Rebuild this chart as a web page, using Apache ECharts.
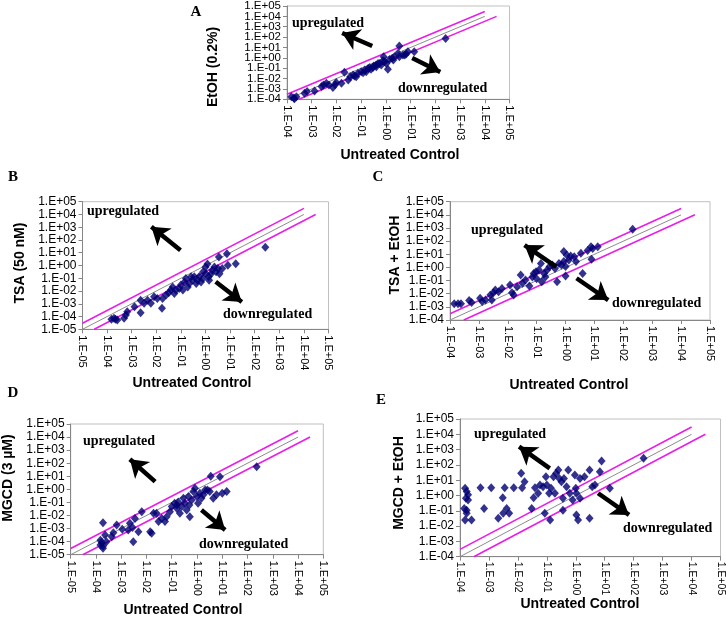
<!DOCTYPE html>
<html><head><meta charset="utf-8">
<script src="https://cdn.jsdelivr.net/npm/echarts@6/dist/echarts.min.js"></script>
<style>html,body{margin:0;padding:0;background:#fff}#c{width:726px;height:617px}</style>
</head><body><div id="c"></div><script>
// ---- tick labels ----
const tickLabels = ['1.E-05','1.E-04','1.E-03','1.E-02','1.E-01','1.E+00','1.E+01','1.E+02','1.E+03','1.E+04','1.E+05'];

// ---- data: [untreated control, treatment] ----
const dataA = [[1.9e-4,1.3e-4],[2.4e-4,1.8e-4],[1.5e-4,1.8e-4],[2.0e-4,1.1e-4],[5.1e-4,3.8e-4],[6.5e-4,5.5e-4],[1.3e-3,6.3e-4],[2.5e-3,1.7e-3],[3.0e-3,2.4e-3],[3.9e-3,3.5e-3],[5.0e-3,2.4e-3],[7.2e-3,1.4e-3],[9.8e-3,4.1e-3],[8.9e-3,2.5e-3],[1.6e-2,3.5e-3],[2.1e-2,4.0e-2],[3.0e-2,7.2e-3],[3.6e-2,1.5e-2],[4.7e-2,2.2e-2],[5.4e-2,1.8e-2],[6.3e-2,1.5e-2],[7.4e-2,3.2e-2],[0.1,4.6e-2],[0.12,3.7e-2],[0.14,6.6e-2],[0.16,4.6e-2],[0.19,9.5e-2],[0.22,0.12],[0.25,7.8e-2],[0.3,0.12],[0.32,0.16],[0.4,0.2],[0.41,0.14],[0.48,0.29],[0.55,0.29],[0.65,0.2],[0.76,0.52],[0.81,1.3],[0.89,0.42],[1.05,0.29],[1.2,7.8e-2],[1.4,0.71],[1.8,0.89],[2.0,0.63],[2.2,1.3],[3.1,2.7],[3.5,14],[3.5,1.3],[4.9,1.9],[5.8,1.9],[6.6,2.3],[7.8,3.9],[14,3.9],[260,74]];
const dataB = [[1.5e-4,6.0e-5],[1.9e-4,7.2e-5],[2.2e-4,6.0e-5],[2.6e-4,5.4e-5],[4.9e-4,7.2e-5],[5.8e-4,1.3e-4],[6.6e-4,2.4e-4],[1.3e-3,5.9e-4],[2.3e-3,2.0e-4],[2.3e-3,1.9e-3],[3.2e-3,1.1e-3],[4.4e-3,1.9e-3],[6.0e-3,1.1e-3],[8.1e-3,3.5e-3],[1.1e-2,2.6e-3],[1.7e-2,4.4e-4],[1.8e-2,2.6e-3],[2.5e-2,4.8e-3],[3.2e-2,7.2e-3],[3.9e-2,1.2e-2],[4.6e-2,2.1e-2],[5.4e-2,6.5e-3],[6.3e-2,1.2e-2],[8.5e-2,1.6e-2],[0.1,2.9e-2],[0.12,1.2e-2],[0.14,5.2e-2],[0.16,9.5e-2],[0.19,2.1e-2],[0.22,3.9e-2],[0.26,0.13],[0.3,7.1e-2],[0.35,0.13],[0.42,3.9e-2],[0.48,7.1e-2],[0.56,0.14],[0.66,5.2e-2],[0.78,9.5e-2],[0.81,0.32],[1.0,0.78],[1.05,0.23],[1.2,1.3],[1.35,0.13],[1.4,7.1e-2],[1.7,0.23],[1.9,0.43],[2.3,0.78],[2.7,0.32],[3.2,0.58],[3.5,4.7],[3.7,0.23],[4.8,0.58],[7.4,8.5],[8.1,1.05],[17,1.4],[270,27]];
const dataC = [[1.4e-4,1.7e-3],[1.9e-4,1.7e-3],[2.4e-4,1.7e-3],[4.6e-4,3.0e-3],[5.6e-4,2.1e-3],[1.1e-3,4.5e-3],[1.3e-3,2.5e-3],[1.7e-3,3.3e-3],[2.5e-3,7.9e-3],[2.8e-3,3.3e-3],[3.2e-3,1.2e-2],[3.7e-3,1.9e-2],[4.8e-3,1.4e-2],[6.3e-3,2.5e-2],[1.2e-2,4.6e-2],[1.4e-2,1.2e-2],[1.6e-2,7.9e-3],[2.1e-2,3.4e-2],[2.8e-2,0.26],[3.2e-2,6.2e-2],[4.1e-2,0.11],[5.6e-2,3.8e-2],[7.1e-2,0.19],[7.9e-2,0.35],[9.5e-2,0.47],[0.1,0.14],[0.12,0.63],[0.14,2.0],[0.15,8.1e-2],[0.18,0.35],[0.2,0.19],[0.23,0.63],[0.28,1.15],[0.35,1.5],[0.43,0.83],[0.51,8.1e-2],[0.59,2.0],[0.72,1.5],[0.87,16],[0.87,2.8],[1.0,1.15],[1.0,0.22],[1.1,8.7],[1.3,3.6],[1.5,7.4],[2.0,6.6],[2.3,2.8],[3.4,12],[3.9,0.35],[5.8,19],[7.6,38],[7.9,4.2],[8.7,28],[13,38],[210,790]];
const dataD = [[1.9e-4,2.8e-3],[1.5e-4,1.3e-4],[1.7e-4,8.3e-5],[1.9e-4,4.7e-5],[1.9e-4,3.1e-5],[1.5e-4,5.5e-5],[2.3e-4,3.2e-4],[2.6e-4,1.0e-4],[4.2e-4,2.4e-4],[4.9e-4,4.8e-4],[6.6e-4,1.9e-3],[1.1e-3,8.7e-4],[1.9e-3,7.8e-4],[2.2e-3,2.5e-3],[2.8e-3,1.2e-3],[3.0e-3,1.0e-4],[3.5e-3,6.0e-3],[4.8e-3,5.8e-4],[6.5e-3,1.9e-2],[1.4e-2,5.8e-4],[1.6e-2,4.3e-4],[1.9e-2,1.5e-2],[2.5e-2,1.5e-2],[3.0e-2,3.4e-3],[4.0e-2,6.0e-3],[5.4e-2,3.4e-3],[6.3e-2,8.1e-3],[8.5e-2,1.9e-2],[0.1,4.8e-2],[0.13,8.5e-2],[0.16,3.5e-2],[0.16,6.3e-2],[0.18,0.11],[0.21,1.5e-2],[0.25,4.8e-2],[0.29,0.21],[0.33,8.5e-2],[0.39,2.6e-2],[0.46,0.28],[0.5,6.3e-2],[0.52,8.1e-3],[0.62,0.15],[0.72,0.68],[0.83,1.2],[0.98,0.28],[1.1,8.5e-2],[1.3,0.5],[1.5,0.21],[1.8,0.38],[2.1,0.91],[2.6,0.91],[3.2,0.68],[3.5,10],[4.4,0.21],[5.9,0.38],[8.1,9.3],[10,0.5],[15,0.68],[230,54]];
const dataE = [[1.5e-4,3.0],[1.7e-4,1.8],[1.9e-4,1.1],[1.6e-4,0.65],[1.9e-4,0.51],[1.4e-4,0.14],[1.7e-4,0.11],[1.5e-4,2.5e-2],[2.5e-4,2.5e-2],[1.7e-4,6.8e-2],[5.1e-4,3.2],[6.8e-4,0.14],[1.2e-3,3.2],[2.1e-3,3.2e-2],[3.0e-3,0.71],[3.5e-3,3.2],[3.1e-3,6.8e-2],[5.0e-3,6.8e-2],[4.1e-3,0.14],[7.2e-3,3.2],[1.3e-2,28],[1.4e-2,3.2],[1.7e-2,7.8],[3.0e-2,0.14],[3.5e-2,0.71],[3.9e-2,3.2],[5.0e-2,1.4],[5.8e-2,4.9],[7.4e-2,3.8],[8.5e-2,6.8e-2],[9.3e-2,17],[0.1,4.9],[0.12,1.4],[0.13,2.5e-2],[0.14,3.0],[0.17,17],[0.19,1.4],[0.21,28],[0.25,47],[0.27,13],[0.32,7.8],[0.36,0.65],[0.36,0.11],[0.39,13],[0.48,3.8],[0.55,47],[0.62,1.4],[0.78,0.51],[0.93,22],[1.0,3.0],[1.05,1.4],[1.05,5.4e-2],[1.2,2.5e-2],[1.4,0.65],[1.4,13],[2.0,17],[3.0,47],[3.0,3.2e-2],[3.7,3.8],[4.6,4.9],[6.8,36],[7.8,180],[15,3.0],[220,270]];

// ---- fold lines (3-fold) and the identity line: [start, end] ----
const upper5 = [[1e-5,3e-5],[1e4,3e4]], diag5 = [[1e-5,1e-5],[1e4,1e4]], lower5 = [[3e-5,1e-5],[3e4,1e4]];
const upper4 = [[1e-4,3e-4],[1e4,3e4]], diag4 = [[1e-4,1e-4],[1e4,1e4]], lower4 = [[3e-4,1e-4],[3e4,1e4]];

// ---- annotation arrows: [from, to] in data space ----
const arrowsA = [[[0.28,14],[0.017,250]],[[11.6,0.95],[158,0.043]]];
const arrowsB = [[[0.096,16],[0.0063,1100]],[[2.6,0.054],[30,0.0014]]];
const arrowsC = [[[0.48,1.1],[0.038,50]],[[2.4,0.15],[30,0.0033]]];
const arrowsD = [[[0.022,3.9],[0.0022,200]],[[1.5,0.026],[13,0.00078]]];
const arrowsE = [[[0.126,60],[0.011,1550]],[[5.9,1.4],[69,0.054]]];

// ---- text ----
const yNames = ['EtOH (0.2%)','TSA (50 nM)','TSA + EtOH','MGCD (3 µM)','MGCD + EtOH'];
const xName = 'Untreated Control';
const letters = ['A','B','C','D','E'];
const upText = 'upregulated', downText = 'downregulated';

// ---- layout ----
const panels = [
  {data:dataA, min:1e-4, fold:[upper4,diag4,lower4], arrows:arrowsA, g:[287,6,222.5,93.3], yfs:11.5, xfs:11, xm:6, split:true,
   yn:[213,67], xn:[400,155], letter:[196,12], up:[292,23], down:[398,88]},
  {data:dataB, min:1e-5, fold:[upper5,diag5,lower5], arrows:arrowsB, g:[82.5,201.7,246,127.6], yfs:12, xfs:11, xm:6,
   yn:[20,263], xn:[192,383], letter:[13,177], up:[87,211], down:[223,314]},
  {data:dataC, min:1e-4, fold:[upper4,diag4,lower4], arrows:arrowsC, g:[450,201.7,260,118.3], yfs:12, xfs:11, xm:6,
   yn:[395,255], xn:[569,385], letter:[378,177], up:[471,230], down:[612,303]},
  {data:dataD, min:1e-5, fold:[upper5,diag5,lower5], arrows:arrowsD, g:[70.7,424,252.6,130.7], yfs:12, xfs:11, xm:6,
   yn:[8,478], xn:[183,610], letter:[13,393], up:[83,441], down:[199,544]},
  {data:dataE, min:1e-4, fold:[upper4,diag4,lower4], arrows:arrowsE, g:[460,419,261,137.7], yfs:12, xfs:10.5, xm:5,
   yn:[399,483], xn:[580,604], letter:[381,400], up:[474,434], down:[623,528]}
];

function expOf(v){ return Math.round(Math.log10(v)); }
function fmt(v){ return tickLabels[expOf(v)+5] || ''; }
function fmtEven(v){ const e = expOf(v); return (e % 2 === 0) ? fmt(v) : ''; }
function fmtOdd(v){ const e = expOf(v); return (e % 2 !== 0) ? fmt(v) : ''; }
const axisCommon = {
  type:'log', logBase:10, max:1e5, interval:1,
  axisLine:{show:true, onZero:false, lineStyle:{color:'#868686', width:1}},
  axisTick:{show:true, length:4, lineStyle:{color:'#868686'}},
  splitLine:{show:false}, minorTick:{show:false}
};
const labelBase = {color:'#000', fontFamily:'"Liberation Sans", Arial', interval:0, showMinLabel:true, showMaxLabel:true, hideOverlap:false};
const grids=[], xAxes=[], yAxes=[], series=[], graphics=[];
const sansBold = 'bold 14px "Liberation Sans", Arial, sans-serif';
const serifBold = 'bold 14px "Liberation Serif", "Times New Roman", serif';
panels.forEach((p,i)=>{
  grids.push({left:p.g[0], top:p.g[1], width:p.g[2], height:p.g[3], show:true, borderColor:'#c0c0c0', borderWidth:1});
  xAxes.push(Object.assign({}, axisCommon, {gridIndex:i, min:p.min,
    axisLabel:Object.assign({}, labelBase, {rotate:-90, margin:p.xm, fontSize:p.xfs, formatter:fmt})}));
  const yi = yAxes.length;
  yAxes.push(Object.assign({}, axisCommon, {gridIndex:i, min:p.min, position:'left',
    axisLabel:Object.assign({}, labelBase, {margin:6, fontSize:p.yfs, formatter: p.split ? fmtEven : fmt})}));
  if (p.split) {
    // second label layer so that densely packed decade labels are all shown
    yAxes.push(Object.assign({}, axisCommon, {gridIndex:i, min:p.min, position:'left', offset:0,
      axisLine:{show:false}, axisTick:{show:false},
      axisLabel:Object.assign({}, labelBase, {margin:6, fontSize:p.yfs, formatter: fmtOdd})}));
  }
  const lc = ['#e81ee8','#8c8c8c','#e81ee8'], lw = [1.6,1,1.6];
  p.fold.forEach((ln,k)=>{
    series.push({type:'line', xAxisIndex:i, yAxisIndex:yi, data:ln, showSymbol:false, silent:true, animation:false,
      lineStyle:{color:lc[k], width:lw[k]}, z:2});
  });
  series.push({type:'scatter', xAxisIndex:i, yAxisIndex:yi, data:p.data, symbol:'diamond', symbolSize:[8,9],
    itemStyle:{color:'#000073'}, silent:true, animation:false, z:3});
  series.push({type:'lines', coordinateSystem:'cartesian2d', xAxisIndex:i, yAxisIndex:yi,
    data:p.arrows.map(a=>({coords:a})), symbol:['none','arrow'], symbolSize:17,
    lineStyle:{color:'#000', width:4.5, opacity:1, curveness:0}, silent:true, animation:false, z:5});
  graphics.push({type:'text', x:p.yn[0], y:p.yn[1], rotation:Math.PI/2,
    style:{text:yNames[i], font:sansBold, fill:'#000', textAlign:'center', textVerticalAlign:'middle', align:'center', verticalAlign:'middle'}});
  graphics.push({type:'text', x:p.xn[0], y:p.xn[1],
    style:{text:xName, font:sansBold, fill:'#000', textAlign:'center', textVerticalAlign:'middle', align:'center', verticalAlign:'middle'}});
  graphics.push({type:'text', x:p.letter[0], y:p.letter[1],
    style:{text:letters[i], font:'bold 15px "Liberation Serif", serif', fill:'#000', textAlign:'center', textVerticalAlign:'middle', align:'center', verticalAlign:'middle'}});
  graphics.push({type:'text', x:p.up[0], y:p.up[1], z:10,
    style:{text:upText, font:serifBold, fill:'#000', textAlign:'left', textVerticalAlign:'middle', align:'left', verticalAlign:'middle'}});
  graphics.push({type:'text', x:p.down[0], y:p.down[1], z:10,
    style:{text:downText, font:serifBold, fill:'#000', textAlign:'left', textVerticalAlign:'middle', align:'left', verticalAlign:'middle'}});
});

const chart = echarts.init(document.getElementById('c'), null, {renderer:'canvas'});
chart.setOption({animation:false, backgroundColor:'#fff', grid:grids, xAxis:xAxes, yAxis:yAxes, series:series, graphic:graphics});
</script></body></html>
